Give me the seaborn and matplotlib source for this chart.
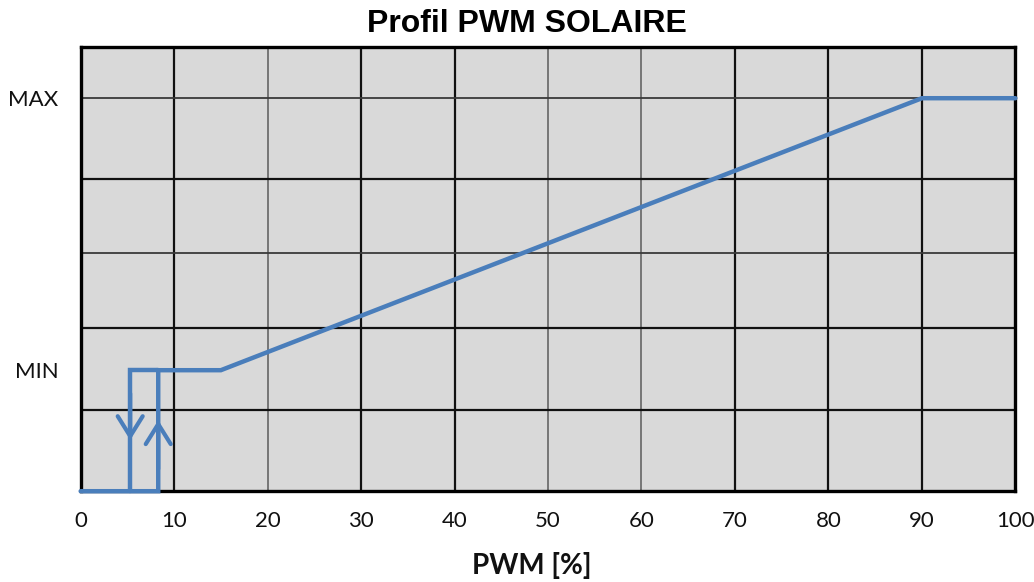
import matplotlib
matplotlib.use("Agg")
import matplotlib.pyplot as plt
import seaborn as sns
import pandas as pd

# Output levels on a 0-100 vertical scale
OFF = 0.0
MIN = 27.25
MAX = 88.5

# Hysteresis thresholds and profile break points (PWM %)
switch_off_pwm = 5.3
switch_on_pwm = 8.3
ramp_start_pwm = 15.0
ramp_end_pwm = 90.0
end_pwm = 100.0

# Main profile: start-up branch then linear ramp
profile_x = [0.0, switch_on_pwm, switch_on_pwm, ramp_start_pwm, ramp_end_pwm, end_pwm]
profile_y = [OFF, OFF, MIN, MIN, MAX, MAX]

# Switch-off branch
drop_x = [switch_on_pwm, switch_off_pwm, switch_off_pwm]
drop_y = [MIN, MIN, OFF]

x_ticks = [0, 10, 20, 30, 40, 50, 60, 70, 80, 90, 100]
x_grid_dark = [10, 30, 40, 70, 80, 90]
x_grid_light = [20, 50, 60]
y_grid_dark = [18.2, 36.7, 70.3]
y_grid_light = [53.6, 88.5]
y_ticks = [MIN, MAX]
y_labels = ["MIN", "MAX"]

BLUE = "#4a7ebb"

sns.set_theme(style="white")
plt.rcParams["font.family"] = ["Lato", "DejaVu Sans"]

fig = plt.figure(figsize=(10.34, 5.82), dpi=100)
ax = fig.add_axes([0.078, 0.156, 0.904, 0.763])
ax.set_facecolor("#d9d9d9")

for gx in x_grid_dark:
    ax.axvline(gx, color="#111111", lw=1.6, zorder=1)
for gx in x_grid_light:
    ax.axvline(gx, color="#6e6e6e", lw=1.3, zorder=1)
for gy in y_grid_dark:
    ax.axhline(gy, color="#111111", lw=1.6, zorder=1)
for gy in y_grid_light:
    ax.axhline(gy, color="#3a3a3a", lw=1.3, zorder=1)

for spine in ax.spines.values():
    spine.set_visible(True)
    spine.set_color("#000000")
    spine.set_linewidth(2.4)
    spine.set_zorder(3)

df_profile = pd.DataFrame({"pwm": profile_x, "level": profile_y})
df_drop = pd.DataFrame({"pwm": drop_x, "level": drop_y})
sns.lineplot(data=df_profile, x="pwm", y="level", sort=False, estimator=None,
             color=BLUE, lw=3.2, ax=ax, zorder=5, solid_joinstyle="miter", clip_on=False)
sns.lineplot(data=df_drop, x="pwm", y="level", sort=False, estimator=None,
             color=BLUE, lw=3.2, ax=ax, zorder=5, solid_joinstyle="miter", clip_on=False)

# Direction arrows on the hysteresis branches
arrow_style = "->,head_length=1.2,head_width=0.75"
ax.annotate("", xy=(switch_off_pwm, 11.5), xytext=(switch_off_pwm, 22),
            arrowprops=dict(arrowstyle=arrow_style, color=BLUE, lw=3, shrinkA=0, shrinkB=0),
            zorder=6)
ax.annotate("", xy=(switch_on_pwm, 16.0), xytext=(switch_on_pwm, 5),
            arrowprops=dict(arrowstyle=arrow_style, color=BLUE, lw=3, shrinkA=0, shrinkB=0),
            zorder=6)

ax.set_xlim(0, 100)
ax.set_ylim(0, 100)
ax.set_xticks(x_ticks)
ax.set_xticklabels([str(t) for t in x_ticks])
ax.set_yticks(y_ticks)
ax.set_yticklabels(y_labels)
ax.tick_params(axis="both", length=0, labelsize=16, colors="#111111")
ax.tick_params(axis="x", pad=14)
ax.tick_params(axis="y", pad=16)

ax.set_xlabel("PWM [%]", fontsize=20, fontweight="bold", color="#111111")
ax.xaxis.set_label_coords(0.483, -0.138)
ax.set_ylabel("")
fig.suptitle("Profil PWM SOLAIRE", x=0.51, y=0.985, fontsize=23, fontweight="bold",
             family=["Liberation Sans", "DejaVu Sans"], color="#000000")

fig.savefig("out.png", dpi=100, facecolor="white")
